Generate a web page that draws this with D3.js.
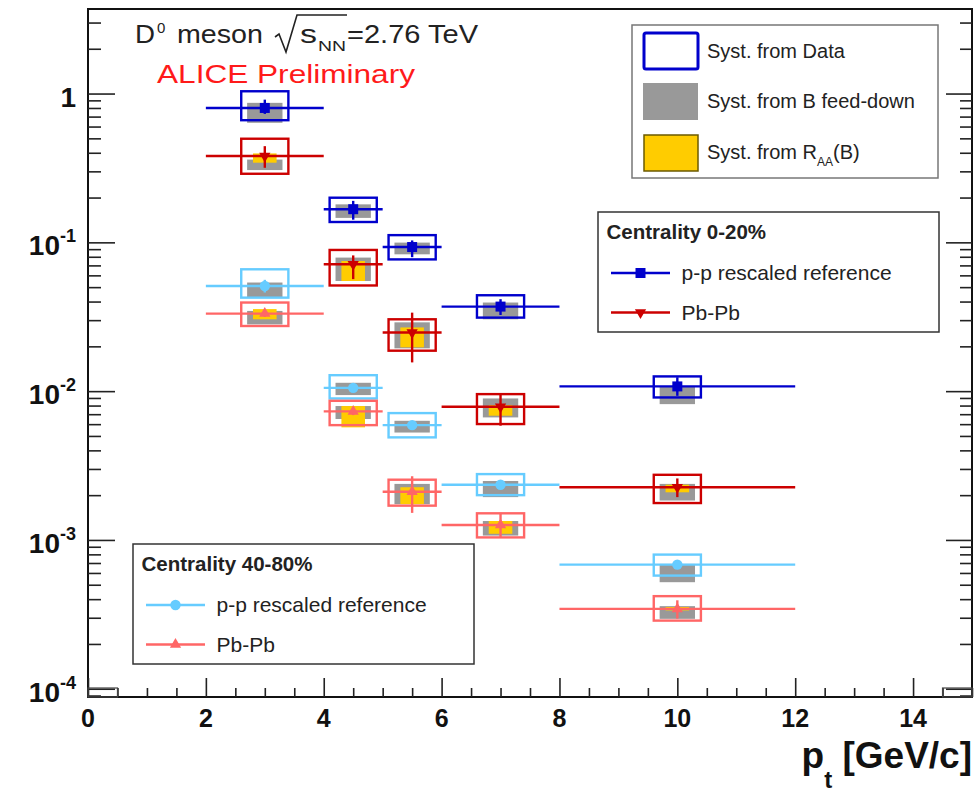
<!DOCTYPE html>
<html>
<head>
<meta charset="utf-8">
<script src="https://cdn.jsdelivr.net/npm/d3@7"></script>
<style>
  body { margin: 0; background: #fff; }
  text { font-family: "Liberation Sans", Arial, Helvetica, sans-serif; }
</style>
</head>
<body>
<script>
// pt bins
var ptCenters = [3, 4.5, 5.5, 7, 10];
var ptLow = [2, 4, 5, 6, 8];
var ptHigh = [4, 5, 6, 8, 12];

// Centrality 0-20%, p-p rescaled reference
var ppCentral = [0.80, 0.167, 0.0930, 0.0370, 0.01076];
var ppCentralStat = [[0.73, 0.91], [0.142, 0.190], [0.0795, 0.1030], [0.0325, 0.0415], [0.0093, 0.0124]];
var ppCentralSystData = [[0.662, 1.036], [0.137, 0.1995], [0.0768, 0.1118], [0.0312, 0.0441], [0.00907, 0.01256]];
var ppCentralSystFD = [[0.636, 0.866], [0.146, 0.180], [0.0831, 0.0996], [0.0304, 0.0394], [0.00818, 0.01081]];

// Centrality 0-20%, Pb-Pb
var pbCentral = [0.38, 0.0712, 0.0248, 0.00785, 0.00226];
var pbCentralStat = [[0.317, 0.443], [0.0566, 0.0817], [0.0156, 0.0337], [0.00586, 0.00970], [0.00194, 0.00259]];
var pbCentralSystData = [[0.289, 0.497], [0.0513, 0.0889], [0.0187, 0.0304], [0.00601, 0.00955], [0.00177, 0.00274]];
var pbCentralSystFD = [[0.306, 0.360], [0.0550, 0.0790], [0.0194, 0.0290], [0.00666, 0.00893], [0.00184, 0.00238]];
var pbCentralSystRaa = [[0.343, 0.396], [0.0550, 0.0749], [0.0197, 0.0268], [0.00684, 0.00805], [0.00209, 0.00235]];

// Centrality 40-80%, p-p rescaled reference
var ppPeriph = [0.0509, 0.01052, 0.00591, 0.00235, 0.000683];
var ppPeriphStat = [[0.0460, 0.0560], [0.0100, 0.0111], [0.00565, 0.00618], [0.00225, 0.00246], [0.000650, 0.000720]];
var ppPeriphSystData = [[0.0425, 0.0659], [0.00893, 0.0128], [0.00489, 0.00712], [0.00200, 0.00277], [0.000576, 0.000797]];
var ppPeriphSystFD = [[0.0428, 0.0537], [0.00941, 0.01138], [0.00527, 0.00632], [0.00194, 0.00249], [0.000520, 0.000690]];

// Centrality 40-80%, Pb-Pb
var pbPeriph = [0.0332, 0.00731, 0.00211, 0.00126, 0.000344];
var pbPeriphStat = [[0.0315, 0.0352], [0.0069, 0.0078], [0.00152, 0.00268], [0.00104, 0.00152], [0.000296, 0.000393]];
var pbPeriphSystData = [[0.0274, 0.0394], [0.00591, 0.00861], [0.00170, 0.00254], [0.00104, 0.00151], [0.000287, 0.000419]];
var pbPeriphSystFD = [[0.0281, 0.0346], [0.00650, 0.00794], [0.00174, 0.00238], [0.00107, 0.00134], [0.000295, 0.000359]];
var pbPeriphSystRaa = [[0.0304, 0.0356], [0.00571, 0.00794], [0.00174, 0.00226], [0.00110, 0.00134], [0.000336, 0.000354]];

// axis ticks
var xMajor = [0, 2, 4, 6, 8, 10, 12, 14];
var yMajor = [1e-4, 1e-3, 1e-2, 1e-1, 1];
var yLabelExp = [-4, -3, -2, -1, 0];

var colBlue = "#0000cc", colRed = "#cc0000", colLBlue = "#66ccff", colSalmon = "#ff6666";
var colGrey = "#999999", colYellow = "#ffcc00";

var width = 976, height = 793;
var svg = d3.select("body").append("svg")
    .attr("width", width)
    .attr("height", height);

var x = d3.scaleLinear().domain([0, 15]).range([88, 972]);
var y = d3.scaleLog().domain([8.8e-5, 3.7]).range([697, 9]);

var xMinor = d3.range(0, 15.01, 0.5).filter(function(v) { return v % 2 !== 0; });
var yMinor = [];
[1e-5, 1e-4, 1e-3, 1e-2, 1e-1, 1].forEach(function(d) {
    for (var m = 2; m <= 9; m++) {
        var v = d * m;
        if (v > 8.8e-5 && v < 3.7) yMinor.push(v);
    }
});

// frame
svg.append("rect")
    .attr("x", x(0)).attr("y", y(3.7))
    .attr("width", x(15) - x(0)).attr("height", y(8.8e-5) - y(3.7))
    .attr("fill", "none").attr("stroke", "#111").attr("stroke-width", 2);

function tickAxis(axis, tf) {
    var g = svg.append("g").attr("transform", tf).call(axis);
    g.select(".domain").remove();
    g.selectAll("line").attr("stroke", "#222").attr("stroke-width", 1.6);
    return g;
}

// left ticks (inward)
tickAxis(d3.axisRight(y).tickValues(yMajor).tickSize(27).tickFormat(""), "translate(" + x(0) + ",0)");
tickAxis(d3.axisRight(y).tickValues(yMinor).tickSize(13).tickFormat(""), "translate(" + x(0) + ",0)");
// right ticks
tickAxis(d3.axisLeft(y).tickValues(yMajor).tickSize(26).tickFormat(""), "translate(" + x(15) + ",0)");
tickAxis(d3.axisLeft(y).tickValues(yMinor).tickSize(12).tickFormat(""), "translate(" + x(15) + ",0)");
// bottom ticks (upward)
tickAxis(d3.axisTop(x).tickValues(xMajor).tickSize(19).tickFormat(""), "translate(0," + y(8.8e-5) + ")");
tickAxis(d3.axisTop(x).tickValues(xMinor).tickSize(9).tickFormat(""), "translate(0," + y(8.8e-5) + ")");

// x tick labels
svg.append("g").selectAll("text")
    .data(xMajor)
    .enter().append("text")
    .attr("x", function(d) { return x(d); })
    .attr("y", 727)
    .attr("text-anchor", "middle")
    .attr("font-size", 25)
    .attr("font-weight", "bold")
    .attr("fill", "#111")
    .text(function(d) { return d; });

// y tick labels
var yl = svg.append("g").selectAll("text")
    .data(yMajor)
    .enter().append("text")
    .attr("x", 76)
    .attr("y", function(d) { return y(d) + 13; })
    .attr("text-anchor", "end")
    .attr("font-size", 28)
    .attr("font-weight", "bold")
    .attr("fill", "#111");
yl.each(function(d, i) {
    var t = d3.select(this);
    if (yLabelExp[i] === 0) { t.text("1"); return; }
    t.append("tspan").text("10");
    t.append("tspan").attr("font-size", 18).attr("dy", -13).text(yLabelExp[i]);
});

// x axis title
var xt = svg.append("text")
    .attr("x", 972).attr("y", 768)
    .attr("text-anchor", "end")
    .attr("font-size", 37)
    .attr("font-weight", "bold")
    .attr("fill", "#111");
xt.append("tspan").text("p");
xt.append("tspan").attr("font-size", 24).attr("dy", 20).text("t");
xt.append("tspan").attr("dy", -20).text(" [GeV/c]");

// little corner boxes
[[0, 0.5], [14.5, 15]].forEach(function(b) {
    svg.append("rect")
        .attr("x", x(b[0])).attr("y", 688)
        .attr("width", x(b[1]) - x(b[0])).attr("height", 9)
        .attr("fill", "none").attr("stroke", "#444").attr("stroke-width", 1.2);
});

// header
var hd = svg.append("g").attr("fill", "#222");
hd.append("text").attr("x", 135).attr("y", 43).attr("font-size", 25)
    .attr("textLength", 20).attr("lengthAdjust", "spacingAndGlyphs").text("D");
hd.append("text").attr("x", 157).attr("y", 33).attr("font-size", 15).text("0");
hd.append("text").attr("x", 177).attr("y", 43).attr("font-size", 25)
    .attr("textLength", 86).attr("lengthAdjust", "spacingAndGlyphs").text("meson");
hd.append("path")
    .attr("d", "M275,37 L279,34 L286,52 L297,15 L347,15")
    .attr("fill", "none").attr("stroke", "#222").attr("stroke-width", 1.6);
hd.append("text").attr("x", 300).attr("y", 43).attr("font-size", 25)
    .attr("textLength", 17).attr("lengthAdjust", "spacingAndGlyphs").text("s");
hd.append("text").attr("x", 318).attr("y", 51).attr("font-size", 15)
    .attr("textLength", 28).attr("lengthAdjust", "spacingAndGlyphs").text("NN");
hd.append("text").attr("x", 347).attr("y", 43).attr("font-size", 25)
    .attr("textLength", 131).attr("lengthAdjust", "spacingAndGlyphs").text("=2.76 TeV");
svg.append("text").attr("x", 157).attr("y", 83).attr("font-size", 25)
    .attr("fill", "#ff1a1a")
    .attr("textLength", 258).attr("lengthAdjust", "spacingAndGlyphs")
    .text("ALICE Preliminary");

// markers
function markerPath(kind) {
    if (kind === "square") return d3.symbol(d3.symbolSquare, 100)();
    if (kind === "circle") return d3.symbol(d3.symbolCircle, 85)();
    return d3.symbol(d3.symbolTriangle, 55)();
}
function markerTransform(kind, px, py) {
    return "translate(" + px + "," + py + ")" + (kind === "down" ? " rotate(180)" : "");
}

function drawSeries(vals, stat, sData, sFD, sRaa, color, kind) {
    var g = svg.append("g");
    g.selectAll(".fd").data(vals).enter().append("rect")
        .attr("x", function(d, i) { return x(ptCenters[i] - 0.3); })
        .attr("width", function(d, i) { return x(ptCenters[i] + 0.3) - x(ptCenters[i] - 0.3); })
        .attr("y", function(d, i) { return y(sFD[i][1]); })
        .attr("height", function(d, i) { return y(sFD[i][0]) - y(sFD[i][1]); })
        .attr("fill", colGrey);
    if (sRaa) {
        g.selectAll(".raa").data(vals).enter().append("rect")
            .attr("x", function(d, i) { return x(ptCenters[i] - 0.2); })
            .attr("width", function(d, i) { return x(ptCenters[i] + 0.2) - x(ptCenters[i] - 0.2); })
            .attr("y", function(d, i) { return y(sRaa[i][1]); })
            .attr("height", function(d, i) { return y(sRaa[i][0]) - y(sRaa[i][1]); })
            .attr("fill", colYellow);
    }
    g.selectAll(".sd").data(vals).enter().append("rect")
        .attr("x", function(d, i) { return x(ptCenters[i] - 0.4); })
        .attr("width", function(d, i) { return x(ptCenters[i] + 0.4) - x(ptCenters[i] - 0.4); })
        .attr("y", function(d, i) { return y(sData[i][1]); })
        .attr("height", function(d, i) { return y(sData[i][0]) - y(sData[i][1]); })
        .attr("fill", "none").attr("stroke", color).attr("stroke-width", 2.4);
    g.selectAll(".hx").data(vals).enter().append("line")
        .attr("x1", function(d, i) { return x(ptLow[i]); })
        .attr("x2", function(d, i) { return x(ptHigh[i]); })
        .attr("y1", function(d) { return y(d); })
        .attr("y2", function(d) { return y(d); })
        .attr("stroke", color).attr("stroke-width", 2.4);
    g.selectAll(".vy").data(vals).enter().append("line")
        .attr("x1", function(d, i) { return x(ptCenters[i]); })
        .attr("x2", function(d, i) { return x(ptCenters[i]); })
        .attr("y1", function(d, i) { return y(stat[i][0]); })
        .attr("y2", function(d, i) { return y(stat[i][1]); })
        .attr("stroke", color).attr("stroke-width", 2.4);
    g.selectAll(".mk").data(vals).enter().append("path")
        .attr("d", markerPath(kind))
        .attr("transform", function(d, i) { return markerTransform(kind, x(ptCenters[i]), y(d)); })
        .attr("fill", color);
}

drawSeries(ppCentral, ppCentralStat, ppCentralSystData, ppCentralSystFD, null, colBlue, "square");
drawSeries(pbCentral, pbCentralStat, pbCentralSystData, pbCentralSystFD, pbCentralSystRaa, colRed, "down");
drawSeries(ppPeriph, ppPeriphStat, ppPeriphSystData, ppPeriphSystFD, null, colLBlue, "circle");
drawSeries(pbPeriph, pbPeriphStat, pbPeriphSystData, pbPeriphSystFD, pbPeriphSystRaa, colSalmon, "up");

// legend: systematics
var lg1 = svg.append("g");
lg1.append("rect").attr("x", 632).attr("y", 25).attr("width", 306).attr("height", 153)
    .attr("fill", "#fff").attr("stroke", "#777").attr("stroke-width", 1.5);
lg1.append("rect").attr("x", 644).attr("y", 33).attr("width", 54).attr("height", 36).attr("rx", 2)
    .attr("fill", "none").attr("stroke", colBlue).attr("stroke-width", 3);
lg1.append("rect").attr("x", 643).attr("y", 83).attr("width", 55).attr("height", 37)
    .attr("fill", colGrey);
lg1.append("rect").attr("x", 644).attr("y", 135).attr("width", 54).attr("height", 36)
    .attr("fill", colYellow).attr("stroke", "#6b5a00").attr("stroke-width", 1.5);
var lg1Text = [["Syst. from Data", 51], ["Syst. from B feed-down", 101]];
lg1Text.forEach(function(t) {
    lg1.append("text").attr("x", 707).attr("y", t[1]).attr("dy", "0.35em")
        .attr("font-size", 20).attr("fill", "#222").text(t[0]);
});
var raaT = lg1.append("text").attr("x", 707).attr("y", 152).attr("dy", "0.35em")
    .attr("font-size", 20).attr("fill", "#222");
raaT.append("tspan").text("Syst. from R");
raaT.append("tspan").attr("font-size", 12).attr("dy", 7).text("AA");
raaT.append("tspan").attr("dy", -7).text("(B)");

// legend: centrality boxes
function centralityLegend(x0, y0, title, items) {
    var g = svg.append("g");
    g.append("rect").attr("x", x0).attr("y", y0).attr("width", 341).attr("height", 120)
        .attr("fill", "#fff").attr("stroke", "#333").attr("stroke-width", 1.5);
    g.append("text").attr("x", x0 + 8.5).attr("y", y0 + 20).attr("dy", "0.35em")
        .attr("font-size", 20.5).attr("font-weight", "bold").attr("fill", "#222").text(title);
    items.forEach(function(it, k) {
        var yy = y0 + 61 + k * 39.5;
        g.append("line").attr("x1", x0 + 13).attr("x2", x0 + 72).attr("y1", yy).attr("y2", yy)
            .attr("stroke", it.color).attr("stroke-width", 2.4);
        g.append("path").attr("d", markerPath(it.kind))
            .attr("transform", markerTransform(it.kind, x0 + 42.5, yy))
            .attr("fill", it.color);
        g.append("text").attr("x", x0 + 83.5).attr("y", yy).attr("dy", "0.35em")
            .attr("font-size", 21).attr("fill", "#222").text(it.label);
    });
}
centralityLegend(598, 212, "Centrality 0-20%", [
    { label: "p-p rescaled reference", color: colBlue, kind: "square" },
    { label: "Pb-Pb", color: colRed, kind: "down" }
]);
centralityLegend(133, 544, "Centrality 40-80%", [
    { label: "p-p rescaled reference", color: colLBlue, kind: "circle" },
    { label: "Pb-Pb", color: colSalmon, kind: "up" }
]);
</script>
</body>
</html>
